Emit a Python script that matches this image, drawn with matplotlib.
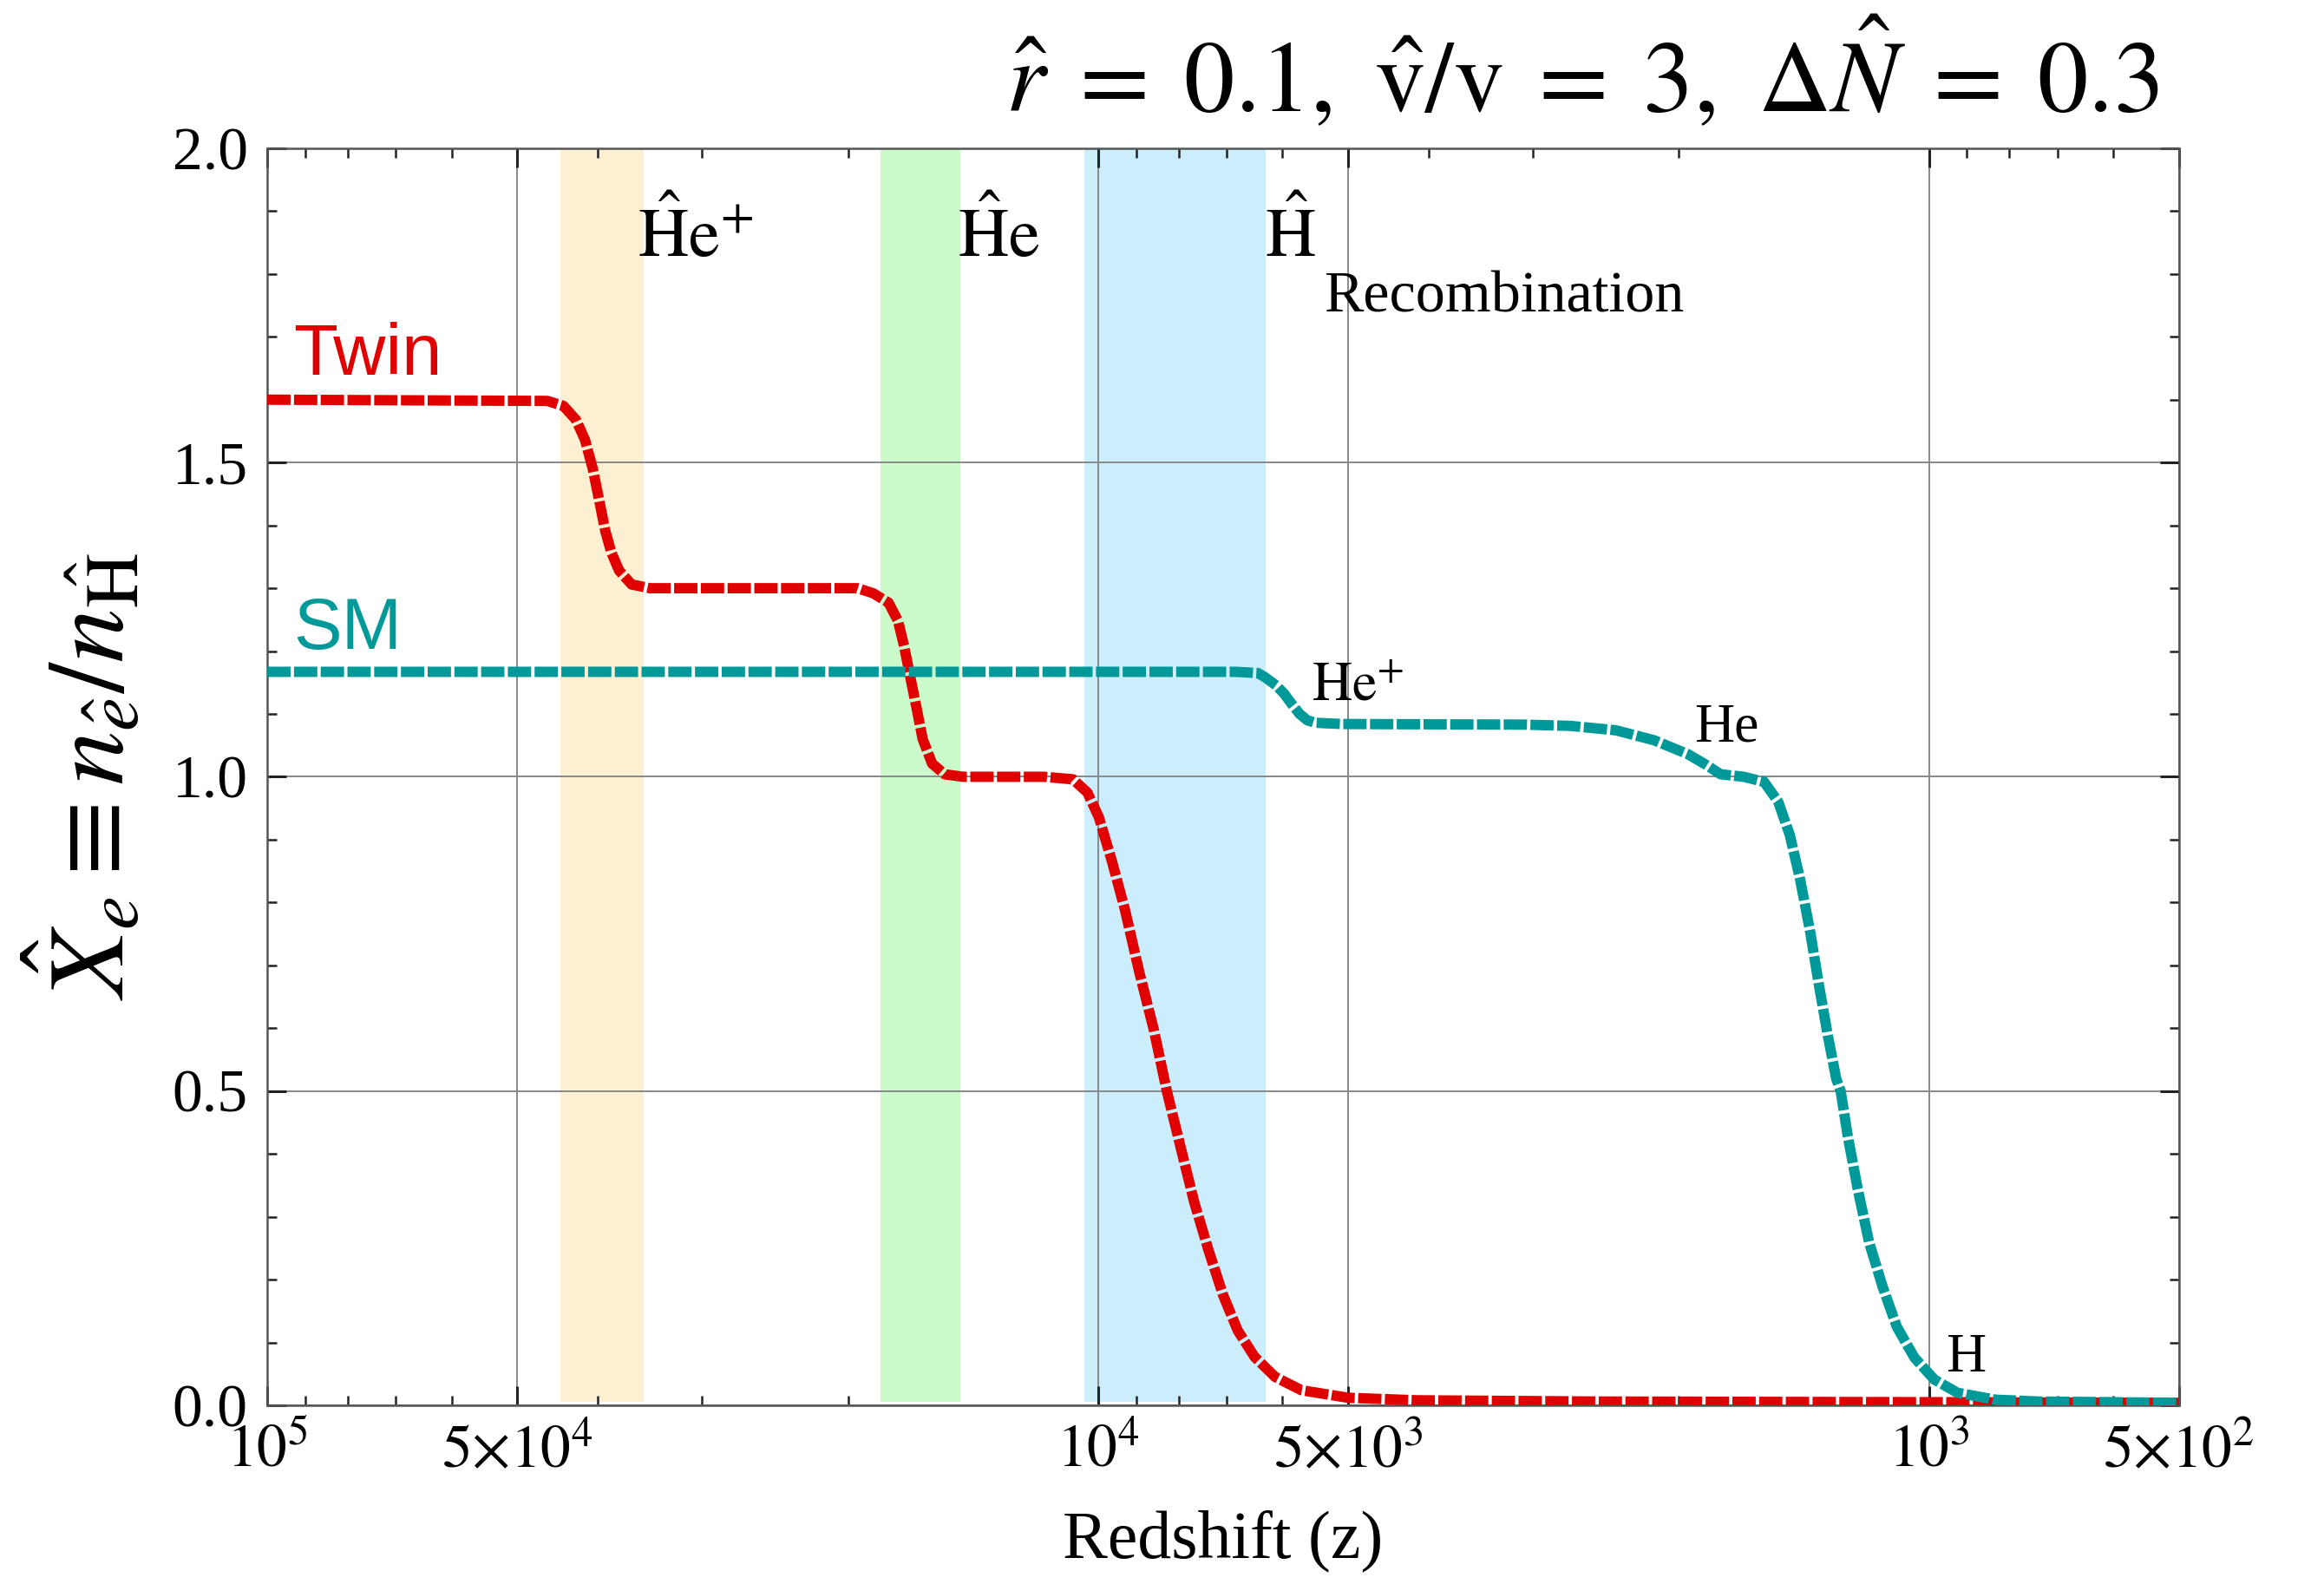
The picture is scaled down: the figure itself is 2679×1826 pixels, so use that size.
import numpy as np
import matplotlib
matplotlib.use("Agg")
import matplotlib.pyplot as plt
from matplotlib.ticker import FixedLocator, LogLocator, NullFormatter, MultipleLocator

plt.rcParams['font.family'] = ['Liberation Serif', 'DejaVu Serif']
plt.rcParams['mathtext.fontset'] = 'stix'

# twin sector ionization fraction
twin_z = [100000, 46000, 44000, 42500, 41450, 40570, 39870, 39200, 38540, 37710,
          36430, 34610, 19470, 18650, 17870, 17410, 17120, 16830, 16540, 16260,
          15840, 15300, 14540, 11620, 10720, 10300, 9980, 9620, 9280, 8920,
          8570, 8265, 7970, 7660, 7360, 7070, 6790, 6480, 6120, 5690,
          5000, 4130, 2500, 1000, 500]
twin_x = [1.6, 1.598, 1.59, 1.568, 1.536, 1.49, 1.441, 1.392, 1.357, 1.328,
          1.306, 1.3, 1.3, 1.292, 1.277, 1.248, 1.208, 1.159, 1.11, 1.06,
          1.021, 1.004, 1.0, 1.0, 0.996, 0.975, 0.936, 0.865, 0.788, 0.689,
          0.598, 0.5, 0.415, 0.323, 0.246, 0.175, 0.119, 0.077, 0.045, 0.024,
          0.012, 0.008, 0.006, 0.005, 0.004]

# standard model
sm_z = [100000, 6820, 6420, 6290, 6100, 5970, 5840, 5720, 5600, 5480,
        5090, 3070, 2700, 2381, 2140, 1950, 1854, 1781, 1671, 1579,
        1518, 1470, 1429, 1389, 1356, 1324, 1293, 1277, 1252, 1218,
        1180, 1137, 1093, 1041, 985, 924, 832, 738, 500]
sm_x = [1.167, 1.167, 1.165, 1.158, 1.145, 1.132, 1.115, 1.1, 1.09, 1.086,
        1.084, 1.083, 1.081, 1.074, 1.058, 1.036, 1.019, 1.004, 1.0, 0.992,
        0.96, 0.907, 0.837, 0.752, 0.668, 0.59, 0.52, 0.5, 0.428, 0.344,
        0.259, 0.189, 0.125, 0.076, 0.041, 0.02, 0.009, 0.006, 0.004]

# recombination bands (z_high, z_low)
bands = [(44360, 35250), (18280, 14650), (10380, 6290)]
band_colors = ['#FDEFD1', '#CBFBCB', '#CCEEFC']

xticks = [1e5, 5e4, 1e4, 5e3, 1e3, 5e2]
xticklabels = [r'$10^{5}$', r'$5{\times}10^{4}$', r'$10^{4}$', r'$5{\times}10^{3}$',
               r'$10^{3}$', r'$5{\times}10^{2}$']
yticks = [0.0, 0.5, 1.0, 1.5, 2.0]

fig = plt.figure(figsize=(13.395, 9.13), dpi=200)
ax = fig.add_axes([0.115, 0.1128, 0.8226, 0.7936])

for (a, b), c in zip(bands, band_colors):
    ax.axvspan(a, b, ymin=0.003, ymax=1, color=c, lw=0, zorder=0.5)

ax.plot(twin_z, twin_x, color='#E00000', lw=4.3, dashes=(2.25, 0.33), zorder=3)
ax.plot(sm_z, sm_x, color='#009999', lw=4.3, dashes=(2.25, 0.33), zorder=3)

ax.set_xscale('log')
ax.set_xlim(1e5, 5e2)
ax.set_ylim(0, 2)

ax.xaxis.set_major_locator(FixedLocator(xticks))
ax.set_xticklabels(xticklabels)
ax.xaxis.set_minor_locator(LogLocator(base=10, subs=[2, 3, 4, 6, 7, 8, 9]))
ax.xaxis.set_minor_formatter(NullFormatter())
ax.set_yticks(yticks)
ax.set_yticklabels(['%.1f' % v for v in yticks])
ax.yaxis.set_minor_locator(MultipleLocator(0.1))

ax.tick_params(which='both', direction='in', top=True, right=True, labelsize=25,
               color='#222222')
ax.tick_params(which='major', length=8, width=1.1, pad=8)
ax.tick_params(which='minor', length=4, width=0.9)
for s in ax.spines.values():
    s.set_color('#555555')
    s.set_linewidth(0.9)

ax.set_axisbelow('line')
ax.grid(which='major', color='#888888', lw=0.7)

ax.set_xlabel('Redshift (z)', fontsize=28, labelpad=12)
ax.set_ylabel(r'$\hat{X}_e \equiv n_{\hat{e}}/n_{\hat{\mathrm{H}}}$', fontsize=45, labelpad=10)

sans = ['Liberation Sans', 'DejaVu Sans']
ax.text(93000, 1.639, 'Twin', color='#E00000', fontsize=30, family=sans)
ax.text(93000, 1.203, 'SM', color='#009999', fontsize=30, family=sans)

ax.text(35840, 1.828, r'$\hat{\mathrm{H}}\mathrm{e}^{+}$', fontsize=29)
ax.text(14760, 1.828, r'$\hat{\mathrm{H}}\mathrm{e}$', fontsize=29)
ax.text(6305, 1.828, r'$\hat{\mathrm{H}}$', fontsize=29)
ax.text(5350, 1.740, 'Recombination', fontsize=24.5)

ax.text(5530, 1.122, r'$\mathrm{He}^{+}$', fontsize=23)
ax.text(1917, 1.056, 'He', fontsize=23)
ax.text(953, 0.054, 'H', fontsize=23)

fig.text(0.929, 0.93,
         r'$\hat{r}\;=\;0.1,\ \hat{\mathrm{v}}/\mathrm{v}\;=\;3,\ \Delta\hat{N}\;=\;0.3$',
         fontsize=42, ha='right', va='baseline')

fig.savefig('out.png', dpi=200)
